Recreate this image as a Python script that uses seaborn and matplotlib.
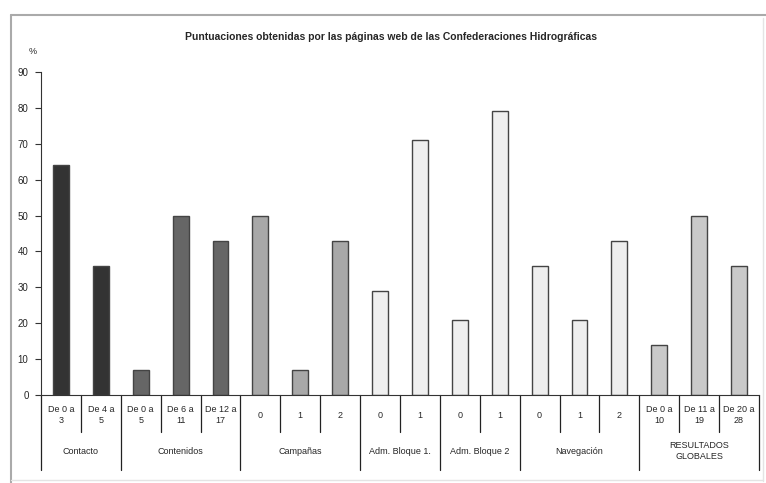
import matplotlib
matplotlib.use("Agg")
import matplotlib.pyplot as plt
import matplotlib.lines as mlines
import seaborn as sns
import pandas as pd

# datos
grupos = ["Contacto", "Contenidos", "Campañas", "Adm. Bloque 1.", "Adm. Bloque 2",
          "Navegación", "RESULTADOS\nGLOBALES"]
subcats = [
    ["De 0 a\n3", "De 4 a\n5"],
    ["De 0 a\n5", "De 6 a\n11", "De 12 a\n17"],
    ["0", "1", "2"],
    ["0", "1"],
    ["0", "1"],
    ["0", "1", "2"],
    ["De 0 a\n10", "De 11 a\n19", "De 20 a\n28"],
]
valores = [
    [64, 36],
    [7, 50, 43],
    [50, 7, 43],
    [29, 71],
    [21, 79],
    [36, 21, 43],
    [14, 50, 36],
]
colores_grupo = ["#333333", "#666666", "#a8a8a8", "#efefef", "#efefef", "#eeeeee", "#c9c9c9"]

# tabla larga para seaborn
filas = []
for g, subs, vals, col in zip(grupos, subcats, valores, colores_grupo):
    for s, v in zip(subs, vals):
        filas.append({"id": str(len(filas)), "grupo": g, "sub": s, "valor": v, "color": col})
df = pd.DataFrame(filas)

sns.set_style("white")
plt.rcParams["font.family"] = ["Liberation Sans", "DejaVu Sans"]

fig = plt.figure(figsize=(7.66, 4.83), dpi=100)
ax = fig.add_axes([41 / 766, 1 - 395 / 483, (759 - 41) / 766, (395 - 72) / 483])

sns.barplot(data=df, x="id", y="valor", hue="id", palette=list(df["color"]),
            legend=False, width=0.4, edgecolor="#444444", linewidth=1, ax=ax)

ax.set_ylim(0, 90)
ax.set_xlim(-0.5, len(df) - 0.5)
ax.set_yticks(range(0, 91, 10))
ax.tick_params(axis="y", left=True, direction="out", length=4, width=0.8, color="#333333",
               labelsize=7, pad=5)
ax.set_xticks([])
ax.set_xlabel("")
ax.set_ylabel("")
for sp in ["top", "right"]:
    ax.spines[sp].set_visible(False)
for sp in ["left", "bottom"]:
    ax.spines[sp].set_color("#333333")
    ax.spines[sp].set_linewidth(0.8)

trans = ax.get_xaxis_transform()
alto = 323.0
corto = -37 / alto
largo = -75 / alto

# separadores y etiquetas del eje x
pos = 0
for g, subs in zip(grupos, subcats):
    ini = pos
    for k, s in enumerate(subs):
        ax.text(pos, -20 / alto, s, transform=trans, ha="center", va="center",
                fontsize=6.5, linespacing=1.4)
        if k > 0:
            ax.add_line(mlines.Line2D([pos - 0.5, pos - 0.5], [0, corto], transform=trans,
                                      color="#222222", lw=0.9, clip_on=False))
        pos += 1
    ax.add_line(mlines.Line2D([ini - 0.5, ini - 0.5], [0, largo], transform=trans,
                              color="#222222", lw=0.9, clip_on=False))
    ax.text((ini + pos - 1) / 2, -56 / alto, g, transform=trans, ha="center", va="center",
            fontsize=6.5, linespacing=1.4)
ax.add_line(mlines.Line2D([pos - 0.5, pos - 0.5], [0, largo], transform=trans,
                          color="#222222", lw=0.9, clip_on=False))

ax.text(-0.011, 1.062, "%", transform=ax.transAxes, ha="center", va="center", fontsize=6.5)

fig.text(0.51, 1 - 37 / 483, "Puntuaciones obtenidas por las páginas web de las Confederaciones Hidrográficas",
         ha="center", va="center", fontsize=7.5, fontweight="bold")

# marco exterior
fig.add_artist(mlines.Line2D([11 / 766, 11 / 766], [1 - 15 / 483, 0], transform=fig.transFigure,
                             color="#aaaaaa", lw=1.5))
fig.add_artist(mlines.Line2D([11 / 766, 1], [1 - 15 / 483, 1 - 15 / 483], transform=fig.transFigure,
                             color="#aaaaaa", lw=1.5))
fig.add_artist(mlines.Line2D([763 / 766, 763 / 766], [1 - 18 / 483, 2 / 483], transform=fig.transFigure,
                             color="#e4e4e4", lw=1))
fig.add_artist(mlines.Line2D([11 / 766, 763 / 766], [3 / 483, 3 / 483], transform=fig.transFigure,
                             color="#e4e4e4", lw=1))

fig.savefig("out.png", dpi=100)
